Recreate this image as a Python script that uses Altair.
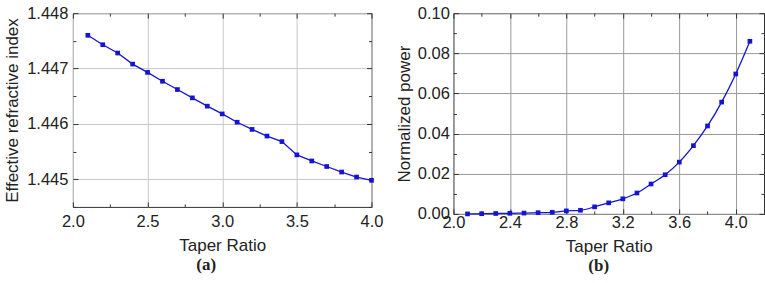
import altair as alt
import pandas as pd

# ---- data ----
ratio_a = [2.1, 2.2, 2.3, 2.4, 2.5, 2.6, 2.7, 2.8, 2.9, 3.0,
           3.1, 3.2, 3.3, 3.4, 3.5, 3.6, 3.7, 3.8, 3.9, 4.0]
neff_a = [1.44760, 1.44743, 1.44728, 1.44708, 1.44693, 1.44677, 1.44662,
          1.44647, 1.44632, 1.44618, 1.44603, 1.44590, 1.44578, 1.44568,
          1.44544, 1.44533, 1.44523, 1.44513, 1.44504, 1.44498]

ratio_b = [2.1, 2.2, 2.3, 2.4, 2.5, 2.6, 2.7, 2.8, 2.9, 3.0, 3.1,
           3.2, 3.3, 3.4, 3.5, 3.6, 3.7, 3.8, 3.9, 4.0, 4.1]
power_b = [0.0000, 0.0001, 0.0002, 0.0003, 0.0004, 0.0006, 0.0008, 0.0015,
           0.0018, 0.0035, 0.0055, 0.0075, 0.0104, 0.0149, 0.0195, 0.0258,
           0.0340, 0.0438, 0.0557, 0.0697, 0.0860]

xmaj_a = [2.0, 2.5, 3.0, 3.5, 4.0]
xmin_a = [2.25, 2.75, 3.25, 3.75]
ymaj_a = [1.445, 1.446, 1.447, 1.448]
ymin_a = [1.4445, 1.4455, 1.4465, 1.4475]

xmaj_b = [2.0, 2.4, 2.8, 3.2, 3.6, 4.0]
xmin_b = [2.2, 2.6, 3.0, 3.4, 3.8, 4.2]
ymaj_b = [0.0, 0.02, 0.04, 0.06, 0.08, 0.10]
ymin_b = [0.01, 0.03, 0.05, 0.07, 0.09]

FONT = "Liberation Sans"
BLUE = "#1414d2"


def panel(df, xf, yf, xdom, ydom, xmaj, xmin, ymaj, ymin, w, h,
          ytitle, caption, grid_color, interp, xfmt, yfmt,
          xlabpad, ylabpad, ytitlepad, cap_dx):
    xs = alt.Scale(domain=xdom, nice=False, zero=False)
    ys = alt.Scale(domain=ydom, nice=False, zero=False)
    base = alt.Chart(df)

    main_x = alt.X(f"{xf}:Q", scale=xs, axis=alt.Axis(
        values=xmaj, format=xfmt, title="Taper Ratio", ticks=False,
        domain=False, grid=True, gridColor=grid_color, gridWidth=1,
        labelPadding=xlabpad, labelFont=FONT, labelFontSize=16.5,
        labelColor="#222", titleFont=FONT, titleFontSize=17,
        titleFontWeight="normal", titleColor="#222", titlePadding=7,
        labelFlush=False, labelOverlap=False))
    main_y = alt.Y(f"{yf}:Q", scale=ys, axis=alt.Axis(
        values=ymaj, format=yfmt, title=ytitle, ticks=False,
        domain=False, grid=True, gridColor=grid_color, gridWidth=1,
        labelPadding=ylabpad, labelFont=FONT, labelFontSize=16.5,
        labelColor="#222", titleFont=FONT, titleFontSize=17,
        titleFontWeight="normal", titleColor="#222",
        titlePadding=ytitlepad, labelFlush=False, labelOverlap=False))

    line = base.mark_line(color=BLUE, strokeWidth=1.3,
                          interpolate=interp).encode(x=main_x, y=main_y)
    pts = base.mark_square(color=BLUE, size=22, opacity=1).encode(
        x=alt.X(f"{xf}:Q", scale=xs, axis=None),
        y=alt.Y(f"{yf}:Q", scale=ys, axis=None))

    def tick_layer(xorient, yorient, xv, yv, size):
        ax = alt.Axis(orient=xorient, values=xv, labels=False, domain=False,
                      grid=False, title=None, ticks=True, tickSize=size,
                      offset=-size, tickColor="#333", tickWidth=1)
        ay = alt.Axis(orient=yorient, values=yv, labels=False, domain=False,
                      grid=False, title=None, ticks=True, tickSize=size,
                      offset=-size, tickColor="#333", tickWidth=1)
        return base.mark_point(opacity=0).encode(
            x=alt.X(f"{xf}:Q", scale=xs, axis=ax),
            y=alt.Y(f"{yf}:Q", scale=ys, axis=ay))

    layers = [line, pts,
              tick_layer("bottom", "left", xmaj, ymaj, 5),
              tick_layer("top", "right", xmaj, ymaj, 5),
              tick_layer("bottom", "left", xmin, ymin, 3),
              tick_layer("top", "right", xmin, ymin, 3)]
    return alt.layer(*layers).resolve_axis(
        x="independent", y="independent").properties(
        width=w, height=h,
        title=alt.TitleParams(caption, orient="bottom", anchor="middle",
                              frame="group", font="Liberation Serif",
                              fontSize=17, fontWeight="bold", color="#222",
                              offset=4, dx=cap_dx))


df_a = pd.DataFrame({"ratio": ratio_a, "neff": neff_a})
df_b = pd.DataFrame({"ratio": ratio_b, "power": power_b})

left = panel(df_a, "ratio", "neff", [2.0, 4.0], [1.4445, 1.448],
             xmaj_a, xmin_a, ymaj_a, ymin_a, 299, 194,
             "Effective refractive index", "(a)", "#c8c8c8", "linear",
             ".1f", ".3f", 7, 5, 5, -16)
right = panel(df_b, "ratio", "power", [2.0, 4.2], [0.0, 0.1],
              xmaj_b, xmin_b, ymaj_b, ymin_b, 311, 201,
              "Normalized power", "(b)", "#9a9a9a", "monotone",
              ".1f", ".2f", 1, 4, 4, -10)

chart = alt.hconcat(left, right, spacing=11).properties(
    padding={"left": 3, "top": 4, "right": 0, "bottom": 0},
    background="white",
).configure_view(stroke="#333", strokeWidth=1)

chart.save("out.html", embed_options={"renderer": "svg", "actions": False})
